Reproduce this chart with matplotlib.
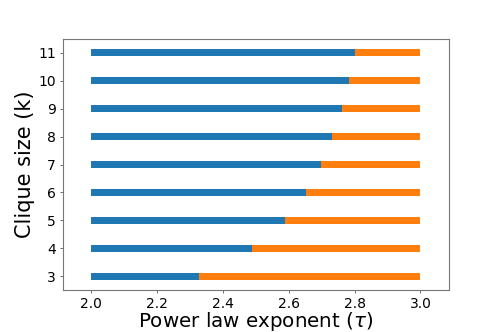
import matplotlib.pyplot as plt

# clique sizes and the exponent where the regime switches
clique_sizes = [3, 4, 5, 6, 7, 8, 9, 10, 11]
tau_split = [2.327, 2.489, 2.589, 2.652, 2.698, 2.733, 2.762, 2.783, 2.800]
tau_min = 2.0
tau_max = 3.0

fig = plt.figure(figsize=(4.99, 3.32), dpi=100)
ax = fig.add_axes([0.126, 0.1265, 0.774, 0.756])

lower = [s - tau_min for s in tau_split]
upper = [tau_max - s for s in tau_split]
ax.barh(clique_sizes, lower, left=tau_min, height=0.25, color='#1f77b4')
ax.barh(clique_sizes, upper, left=tau_split, height=0.25, color='#ff7f0e')

ax.set_xlim(1.915, 3.087)
ax.set_ylim(2.5, 11.5)
ax.set_yticks(clique_sizes)
ax.set_xticks([2.0, 2.2, 2.4, 2.6, 2.8, 3.0])
ax.tick_params(labelsize=10, length=2.5, width=0.6, color='#555555', pad=2.5)
for sp in ax.spines.values():
    sp.set_color('#777777')
    sp.set_linewidth(0.8)

ax.set_xlabel(r'Power law exponent ($\tau$)', fontsize=14.3, labelpad=-0.5)
ax.set_ylabel('Clique size (k)', fontsize=15, labelpad=2)

fig.savefig('out.png', dpi=100)
